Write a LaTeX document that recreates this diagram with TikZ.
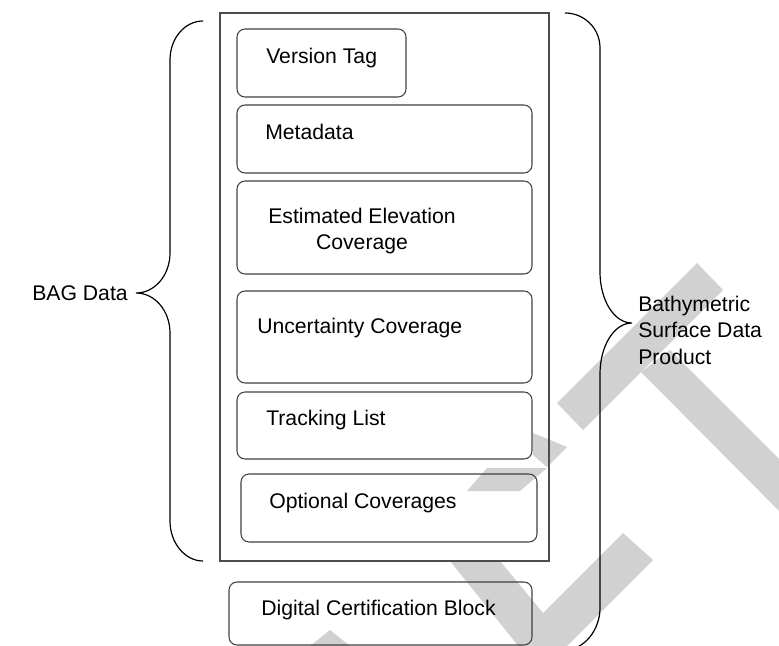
\documentclass[tikz,border=0pt]{standalone}
\usepackage{fontspec}
\setmainfont{Liberation Sans}
\usetikzlibrary{fit}
\begin{document}
\begin{tikzpicture}[x=0.75pt,y=-0.75pt,
  box/.style={draw=black!75, line width=0.8pt, rounded corners=6pt, inner sep=0pt},
  outerbox/.style={draw=black!70, line width=0.8pt, inner sep=0pt},
  lbl/.style={font=\fontsize{15.9}{19.9}\selectfont, inner sep=0pt, text=black},
  wm/.style={fill=black!18},
  bracepath/.style={draw=black, line width=0.9pt}]
\useasboundingbox (0,0) rectangle (779,646);
% watermark
\begin{scope}
\clip (0,0) rectangle (779,646);
\fill[wm] (697,263) -- (723,290) -- (583,430) -- (557,403) -- cycle;
\fill[wm] (641,372) -- (670,350) -- (800,480) -- (800,532) -- cycle;
\fill[wm] (533,433) -- (567,447) -- (547,467) -- (533,455) -- cycle;
\fill[wm] (487,468) -- (547,468) -- (520,491) -- (467,491) -- cycle;
\fill[wm] (450,561) -- (500,561) -- (543,613) -- (623,533) -- (653,560) -- (540,673) -- cycle;
\fill[wm] (305,650) -- (330,630) -- (355,650) -- cycle;
\end{scope}
% outer container
\node[outerbox, fit={(220,13) (549,561)}] (bag) {};
% boxes
\node[box, fit={(237,29) (406,97)}] (vtbox) {};
\node[box, fit={(237,105) (532,173)}] (mdbox) {};
\node[box, fit={(237,181) (532,274)}] (eebox) {};
\node[box, fit={(237,291) (532,383)}] (ucbox) {};
\node[box, fit={(237,392) (532,459)}] (tlbox) {};
\node[box, fit={(241,474) (537,542)}] (ocbox) {};
\node[box, fit={(229,582) (532,645)}] (dcbox) {};
% texts
\node[lbl, anchor=mid west] (vt) at (266,60) {Version Tag};
\node[lbl, anchor=mid west] (md) at (265,136) {Metadata};
\node[lbl, align=center] (ee) at (362,231) {Estimated Elevation\\Coverage};
\node[lbl, anchor=mid west] (uc) at (257,330) {Uncertainty Coverage};
\node[lbl, anchor=mid west] (tl) at (266,422) {Tracking List};
\node[lbl, anchor=mid west] (oc) at (269,505) {Optional Coverages};
\node[lbl, anchor=mid west] (dc) at (261,612) {Digital Certification Block};
\node[lbl, anchor=mid east] (bagl) at (128,297) {BAG Data};
\node[lbl, align=left, anchor=west] (bsdp) at (638,330) {Bathymetric\\Surface Data\\Product};
% braces
\draw[bracepath] (203,21) .. controls (185,21) and (170,38) .. (170,60)
  -- (170,253) .. controls (170,275) and (155,293) .. (136,293)
  .. controls (155,293) and (170,311) .. (170,333)
  -- (170,521) .. controls (170,543) and (185,561) .. (203,561);
\draw[bracepath] (565,13) .. controls (584,13) and (600,28) .. (600,48)
  -- (600,272) .. controls (600,300) and (614,323) .. (632,323)
  .. controls (614,323) and (600,346) .. (600,374)
  -- (600,608) .. controls (600,630) and (584,650) .. (565,650);
\end{tikzpicture}
\end{document}
